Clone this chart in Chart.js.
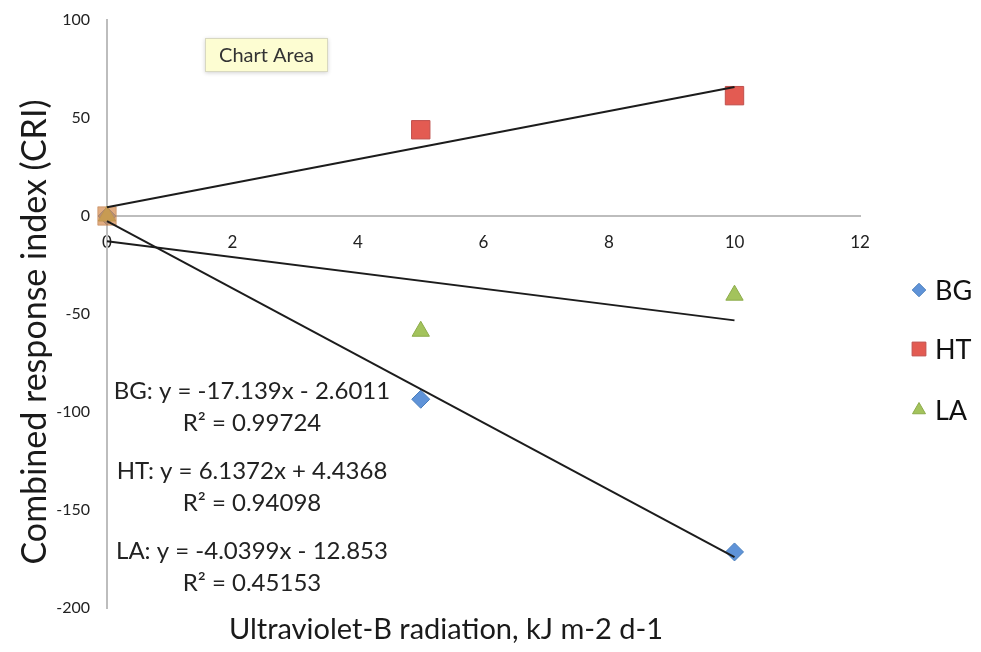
<!DOCTYPE html>
<html>
<head>
<meta charset="utf-8">
<script src="https://cdn.jsdelivr.net/npm/chart.js@4/dist/chart.umd.min.js"></script>
<style>
  html, body { margin: 0; padding: 0; background: #ffffff; }
  #wrap { position: relative; width: 981px; height: 652px; }
</style>
</head>
<body>
<div id="wrap"><canvas id="cri"></canvas></div>
<script>
// UV-B dose levels (kJ m-2 d-1)
const uvbDoses = [0, 5, 10];

// Combined response index per site
const bgValues = [0, -93.5, -171.4];
const htValues = [0, 44.0, 61.4];
const laValues = [0, -58.8, -40.4];

const seriesNames = ['BG', 'HT', 'LA'];

// Linear trendline fits (y = slope * x + intercept)
const trendSlopes = [-17.139, 6.1372, -4.0399];
const trendIntercepts = [-2.6011, 4.4368, -12.853];
const rSquared = ['0.99724', '0.94098', '0.45153'];
const trendRange = [0, 10];

// Axis ticks
const xTicks = [0, 2, 4, 6, 8, 10, 12];
const yTicks = [100, 50, 0, -50, -100, -150, -200];

const xTitle = 'Ultraviolet-B radiation, kJ m-2 d-1';
const yTitle = 'Combined response index (CRI)';
const areaTag = 'Chart Area';

const FONT = 'Lato, "Open Sans", sans-serif';

const markerStyles = [
  { style: 'rectRot', radius: 9,  fill: '#5f93d8', edge: '#4a7ebb' },
  { style: 'rect',    radius: 13, fill: '#e35b52', edge: '#c0504d' },
  { style: 'triangle', radius: 10, fill: '#a3c35c', edge: '#8cab4a' }
];

function seriesPoints(values) {
  return uvbDoses.map((x, i) => ({ x: x, y: values[i] }));
}

function trendPoints(k) {
  return trendRange.map(x => ({ x: x, y: trendSlopes[k] * x + trendIntercepts[k] }));
}

function equationText(k) {
  const b = trendIntercepts[k];
  const sign = b < 0 ? ' - ' : ' + ';
  return seriesNames[k] + ': y = ' + String(trendSlopes[k]) + 'x' + sign + String(Math.abs(b));
}

const seriesValues = [bgValues, htValues, laValues];

const datasets = [];
// Trendlines sit above the markers
seriesNames.forEach((name, k) => {
  datasets.push({
    label: name + ' trend',
    type: 'line',
    data: trendPoints(k),
    borderColor: '#1c1c1c',
    borderWidth: 2,
    pointRadius: 0,
    fill: false,
    clip: false,
    order: 0
  });
});
// Marker stacking: BG at the bottom, then LA, HT square on top
const markerOrder = [3, 1, 2];
seriesNames.forEach((name, k) => {
  const m = markerStyles[k];
  const shared = (ctx) => k === 1 && ctx.dataIndex === 0;
  datasets.push({
    label: name,
    data: seriesPoints(seriesValues[k]),
    showLine: false,
    clip: false,
    pointStyle: m.style,
    pointRadius: m.radius,
    pointHoverRadius: m.radius,
    pointBackgroundColor: (ctx) => shared(ctx) ? 'rgba(214,140,80,0.72)' : m.fill,
    pointBorderColor: (ctx) => shared(ctx) ? 'rgba(190,130,80,0.6)' : m.edge,
    pointBorderWidth: 1,
    order: markerOrder[k]
  });
});

const extras = {
  id: 'extras',
  afterDraw(chart) {
    const c = chart.ctx;
    c.save();

    // Axis titles
    c.fillStyle = '#1a1a1a';
    c.textAlign = 'center';
    c.textBaseline = 'middle';
    c.font = '29px ' + FONT;
    c.fillText(xTitle, 446, 630);
    c.save();
    c.translate(35, 332);
    c.rotate(-Math.PI / 2);
    c.font = '34px ' + FONT;
    c.fillText(yTitle, 0, 0);
    c.restore();

    // Trendline equations
    const eqY = [391, 471, 551];
    c.font = '24px ' + FONT;
    c.fillStyle = '#222222';
    seriesNames.forEach((name, k) => {
      c.textAlign = 'center';
      c.fillText(equationText(k), 252, eqY[k]);
      c.fillText('R² = ' + rSquared[k], 252, eqY[k] + 32);
    });

    // Legend
    const legY = [290, 349, 410];
    c.font = '27px ' + FONT;
    c.textAlign = 'left';
    seriesNames.forEach((name, k) => {
      const m = markerStyles[k];
      c.fillStyle = m.fill;
      c.strokeStyle = m.edge;
      c.lineWidth = 1;
      Chart.helpers.drawPoint(c, { pointStyle: m.style, radius: m.radius * 0.75, rotation: 0, borderWidth: 1 }, 919, legY[k]);
      c.fillStyle = '#111111';
      c.fillText(name, 935, legY[k] + 1);
    });

    // Hover tag over the plot
    const bx = 205, by = 38, bw = 123, bh = 34;
    c.shadowColor = 'rgba(0,0,0,0.18)';
    c.shadowBlur = 4;
    c.shadowOffsetY = 1;
    c.fillStyle = '#fdfdd2';
    c.fillRect(bx, by, bw, bh);
    c.shadowColor = 'transparent';
    c.strokeStyle = '#d8d8c0';
    c.lineWidth = 1;
    c.strokeRect(bx + 0.5, by + 0.5, bw - 1, bh - 1);
    c.fillStyle = '#333333';
    c.font = '20px ' + FONT;
    c.textAlign = 'center';
    c.fillText(areaTag, bx + bw / 2, by + bh / 2 + 1);

    c.restore();
  }
};

new Chart(document.getElementById('cri'), {
  type: 'scatter',
  data: { datasets: datasets },
  options: {
    responsive: true,
    maintainAspectRatio: false,
    animation: false,
    events: [],
    layout: { padding: { left: 0, top: 20, right: 121, bottom: 44 } },
    plugins: { legend: { display: false }, tooltip: { enabled: false } },
    scales: {
      x: {
        type: 'linear',
        min: xTicks[0],
        max: xTicks[xTicks.length - 1],
        position: { y: 0 },
        grid: { display: false },
        border: { display: true, color: '#bdbdbd', width: 2 },
        afterBuildTicks: (s) => { s.ticks = xTicks.map(v => ({ value: v })); },
        ticks: { color: '#222222', font: { family: FONT, size: 17 }, padding: 8, maxRotation: 0 }
      },
      y: {
        type: 'linear',
        min: yTicks[yTicks.length - 1],
        max: yTicks[0],
        grid: { display: false },
        border: { display: true, color: '#bdbdbd', width: 2 },
        afterBuildTicks: (s) => { s.ticks = yTicks.map(v => ({ value: v })); },
        afterFit: (s) => { s.width = 107; },
        ticks: { color: '#222222', font: { family: FONT, size: 16 }, padding: 9 }
      }
    }
  },
  plugins: [extras]
});
</script>
</body>
</html>
